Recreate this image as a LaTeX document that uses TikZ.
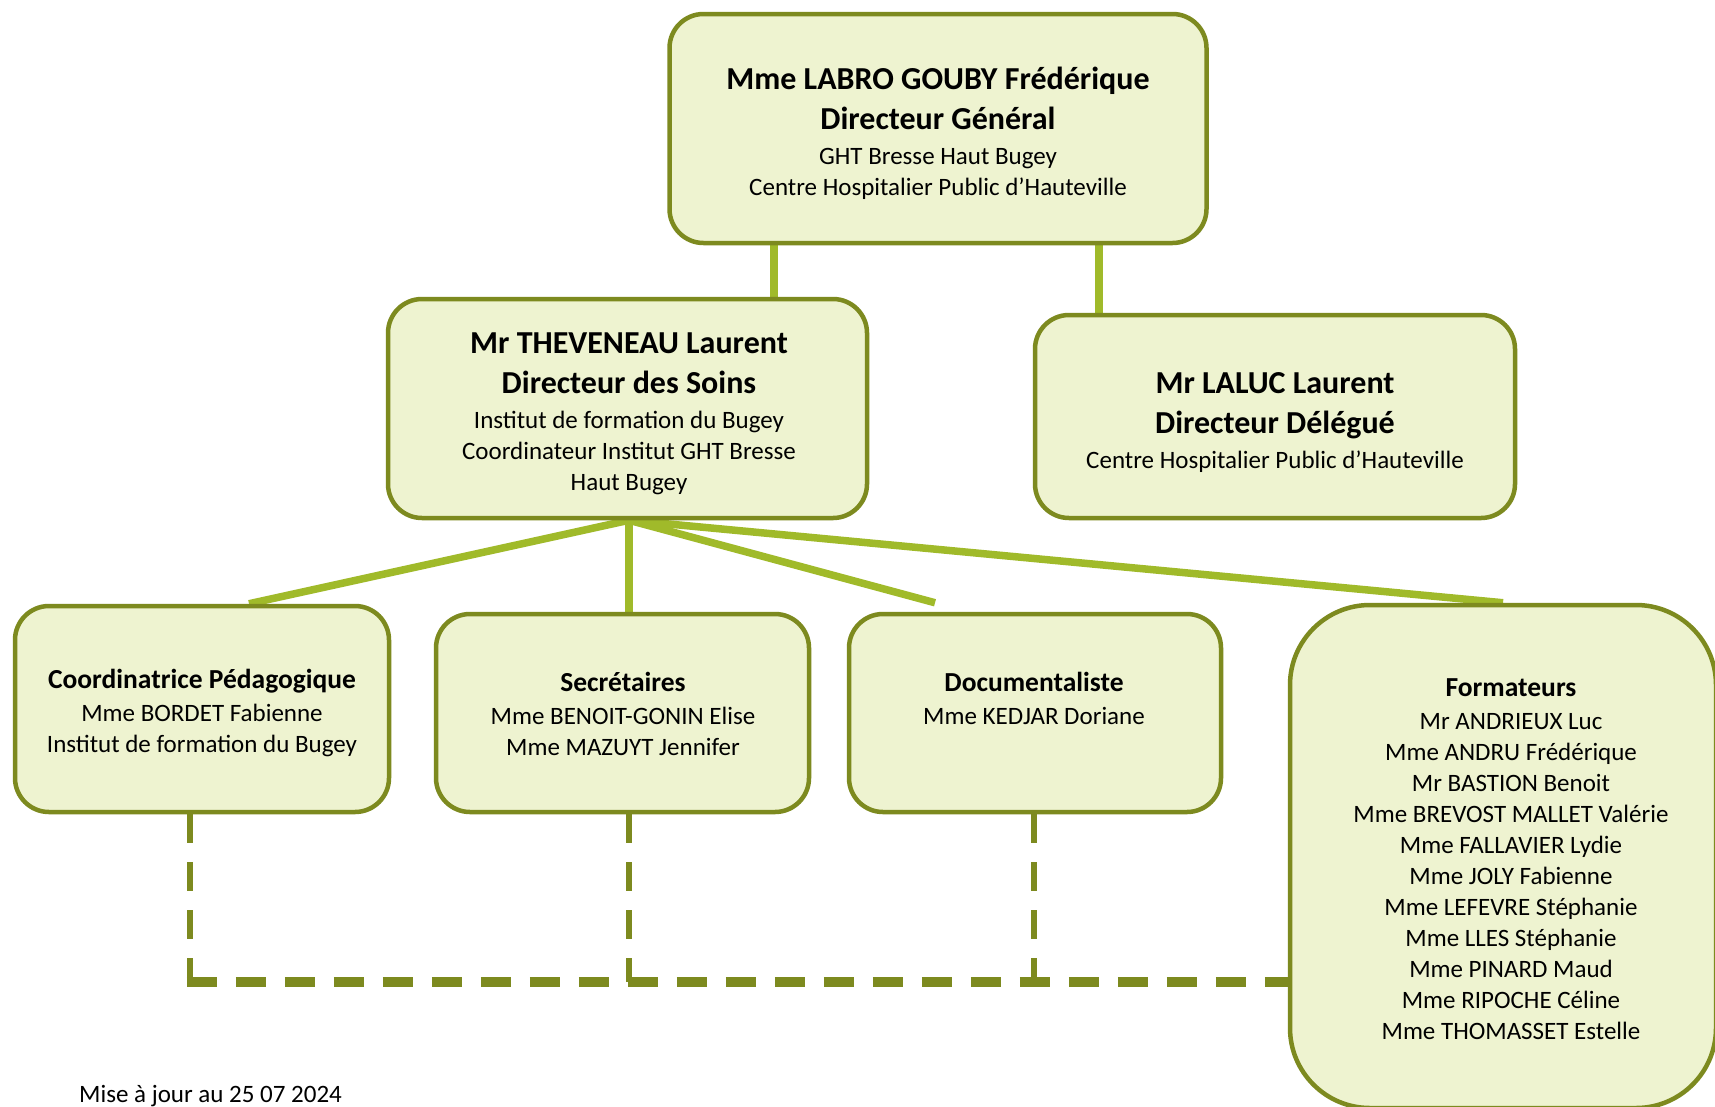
\documentclass[tikz,border=0pt]{standalone}
\usepackage{fontspec}
\setmainfont{Carlito}
\usetikzlibrary{calc}
\definecolor{boxfill}{HTML}{EEF3D0}
\definecolor{boxline}{HTML}{7D8A1F}
\definecolor{conn}{HTML}{A0BA2A}
\newcommand{\bt}[1]{{\fontsize{32}{36}\bfseries #1}}
\newcommand{\bh}[1]{{\fontsize{27.5}{30}\bfseries #1}}
\pgfdeclarelayer{bg}
\pgfdeclarelayer{paper}
\pgfsetlayers{paper,bg,main}
\tikzset{
  orgbox/.style={draw=boxline, line width=4.5pt, fill=boxfill, rounded corners=34pt, inner sep=0pt},
  orgtext/.style={align=center, inner sep=0pt, font=\fontsize{25}{31}\selectfont},
  link/.style={draw=conn, line width=7.5pt},
  dashv/.style={draw=boxline, line width=6.5pt, dash pattern=on 29pt off 19pt},
  dashh/.style={draw=boxline, line width=9.5pt, dash pattern=on 30pt off 19pt},
}
\begin{document}
\begin{tikzpicture}[x=1pt,y=-1pt]
\clip (0,0) rectangle (1715,1106);
\begin{pgfonlayer}{paper}
\fill[white] (0,0) rectangle (1715,1106);
\end{pgfonlayer}
\coordinate (c1) at (774,0);
\coordinate (c2) at (1099,0);
\coordinate (dl) at (190,982);
\coordinate (ds) at (629,982);
\coordinate (dd) at (1034,982);
% boxes
\node[orgbox, minimum width=537pt, minimum height=229pt] (top) at (938,128.5) {};
\node[orgbox, minimum width=479pt, minimum height=219pt] (thev) at (627.5,408.5) {};
\node[orgbox, minimum width=480pt, minimum height=203pt] (laluc) at (1275,416.5) {};
\node[orgbox, minimum width=374pt, minimum height=206pt] (coord) at (202,709) {};
\node[orgbox, minimum width=373pt, minimum height=198pt] (secr) at (622.5,713) {};
\node[orgbox, minimum width=372pt, minimum height=198pt] (doc) at (1035,713) {};
\node[orgbox, rounded corners=80pt, minimum width=426pt, minimum height=503pt] (form) at (1503,856.5) {};
% texts
\node[orgtext] (topt) at (938,133)
  {\bt{Mme LABRO GOUBY Frédérique}\\[9pt]\bt{Directeur Général}\\[4pt]GHT Bresse Haut Bugey\\Centre Hospitalier Public d’Hauteville};
\node[orgtext] (thevt) at (629,414)
  {\bt{Mr THEVENEAU Laurent}\\[9pt]\bt{Directeur des Soins}\\[4pt]Institut de formation du Bugey\\Coordinateur Institut GHT Bresse\\Haut Bugey};
\node[orgtext] (laluct) at (1275,423)
  {\bt{Mr LALUC Laurent}\\[9pt]\bt{Directeur Délégué}\\[4pt]Centre Hospitalier Public d’Hauteville};
\node[orgtext] (coordt) at (202,712.5)
  {\bh{Coordinatrice Pédagogique}\\[2pt]Mme BORDET Fabienne\\Institut de formation du Bugey};
\node[orgtext] (secrt) at (623,714)
  {\bh{Secrétaires}\\[2pt]Mme BENOIT-GONIN Elise\\Mme MAZUYT Jennifer};
\node[orgtext] (doct) at (1034,698)
  {\bh{Documentaliste}\\[2pt]Mme KEDJAR Doriane};
\node[orgtext] (formt) at (1511,859.5)
  {\bh{Formateurs}\\[2pt]Mr ANDRIEUX Luc\\Mme ANDRU Frédérique\\Mr BASTION Benoit\\Mme BREVOST MALLET Valérie\\Mme FALLAVIER Lydie\\Mme JOLY Fabienne\\Mme LEFEVRE Stéphanie\\Mme LLES Stéphanie\\Mme PINARD Maud\\Mme RIPOCHE Céline\\Mme THOMASSET Estelle};
% links
\begin{pgfonlayer}{bg}
\draw[link] (top.south -| c1) -- (thev.north -| c1);
\draw[link] (top.south -| c2) -- (laluc.north -| c2);
\draw[link] ($(thev.south)+(1.5,0)$) -- ($(coord.north)+(47,0)$);
\draw[link] ($(thev.south)+(1.5,0)$) -- (secr.north -| ds);
\draw[link] ($(thev.south)+(1.5,0)$) -- ($(doc.north)+(-100,-9)$);
\draw[link] ($(thev.south)+(1.5,0)$) -- (form.north);
\end{pgfonlayer}
\draw[dashv] (coord.south -| dl) -- (dl);
\draw[dashv] (secr.south -| ds) -- (ds);
\draw[dashv] (doc.south -| dd) -- (dd);
\draw[dashh] ($(dl)+(-3.25,0)$) -- (form.west |- dl);
\node[anchor=base west, font=\fontsize{25}{30}\selectfont, inner sep=0pt] (upd) at (79,1102) {Mise à jour au 25 07 2024};
\end{tikzpicture}
\end{document}
